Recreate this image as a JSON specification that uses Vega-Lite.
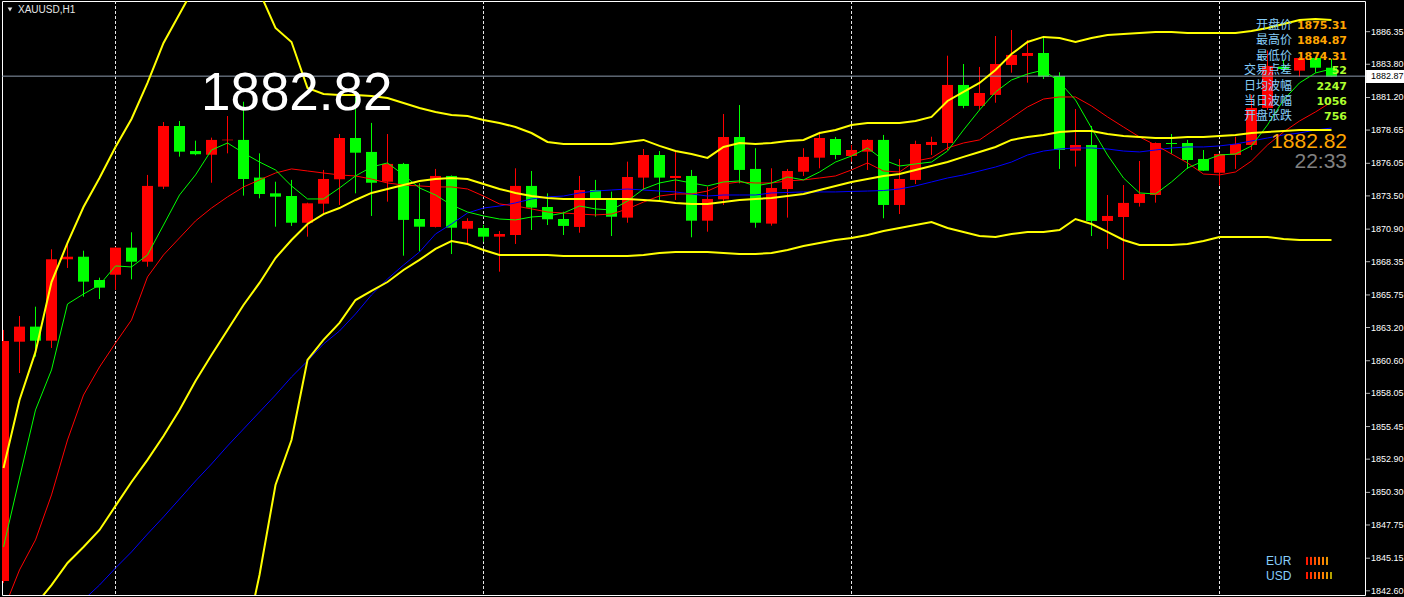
{
"$schema": "https://vega.github.io/schema/vega-lite/v6.json",
"width": 1363, "height": 594,
"autosize": {"type": "none"},
"padding": {"left": 2, "top": 1, "right": 39, "bottom": 2},
"background": "#000000",
"config": {"view": {"stroke": "#ffffff", "strokeWidth": 1},
  "axis": {"labelFont":"Liberation Sans","labelFontSize":9,"labelColor":"#ffffff","tickColor":"#ffffff","domainColor":"#ffffff","grid":false}},
"datasets": {"bars": [
{"i":0,"o":1843.37,"h":1863.01,"l":1843.21,"c":1862.15,"g":1846.03,"r":1841.10,"b":1835.39,"u":1852.21,"m":1838.75,"lo":1825.29},
{"i":1,"o":1862.09,"h":1864.10,"l":1859.64,"c":1863.27,"g":1851.43,"r":1844.23,"b":1836.64,"u":1857.53,"m":1839.92,"lo":1822.32},
{"i":2,"o":1863.27,"h":1864.83,"l":1860.92,"c":1862.17,"g":1856.75,"r":1846.58,"b":1837.97,"u":1861.29,"m":1841.49,"lo":1821.69},
{"i":3,"o":1862.17,"h":1869.32,"l":1861.60,"c":1868.54,"g":1859.88,"r":1850.10,"b":1839.30,"u":1866.76,"m":1843.05,"lo":1819.34},
{"i":4,"o":1868.54,"h":1869.74,"l":1867.86,"c":1868.74,"g":1865.04,"r":1854.40,"b":1840.55,"u":1869.82,"m":1844.78,"lo":1819.74},
{"i":5,"o":1868.74,"h":1869.21,"l":1865.61,"c":1866.79,"g":1865.82,"r":1857.92,"b":1841.88,"u":1872.63,"m":1846.03,"lo":1819.42},
{"i":6,"o":1866.92,"h":1867.10,"l":1865.43,"c":1866.32,"g":1866.53,"r":1860.11,"b":1843.05,"u":1874.90,"m":1847.36,"lo":1819.81},
{"i":7,"o":1867.33,"h":1869.50,"l":1866.14,"c":1869.45,"g":1868.02,"r":1861.99,"b":1844.38,"u":1877.33,"m":1849.24,"lo":1821.14},
{"i":8,"o":1869.45,"h":1870.65,"l":1866.97,"c":1868.35,"g":1867.94,"r":1863.79,"b":1845.64,"u":1879.52,"m":1851.11,"lo":1822.71},
{"i":9,"o":1868.35,"h":1875.14,"l":1867.96,"c":1874.28,"g":1868.88,"r":1867.16,"b":1847.04,"u":1882.34,"m":1852.84,"lo":1823.34},
{"i":10,"o":1874.22,"h":1879.28,"l":1874.04,"c":1878.97,"g":1871.22,"r":1868.88,"b":1848.38,"u":1885.47,"m":1854.71,"lo":1823.96},
{"i":11,"o":1878.97,"h":1879.36,"l":1876.57,"c":1876.96,"g":1873.57,"r":1870.21,"b":1849.78,"u":1887.73,"m":1856.75,"lo":1825.76},
{"i":12,"o":1877.01,"h":1877.82,"l":1876.68,"c":1876.76,"g":1875.14,"r":1871.54,"b":1851.19,"u":1890.00,"m":1859.02,"lo":1828.03},
{"i":13,"o":1876.72,"h":1878.06,"l":1874.53,"c":1877.88,"g":1877.09,"r":1872.55,"b":1852.52,"u":1891.96,"m":1861.05,"lo":1830.14},
{"i":14,"o":1877.85,"h":1879.75,"l":1876.83,"c":1877.90,"g":1877.64,"r":1873.42,"b":1853.93,"u":1892.74,"m":1863.01,"lo":1833.27},
{"i":15,"o":1877.88,"h":1880.87,"l":1873.52,"c":1874.82,"g":1876.86,"r":1874.20,"b":1855.26,"u":1891.96,"m":1864.96,"lo":1837.97},
{"i":16,"o":1874.93,"h":1876.83,"l":1873.31,"c":1873.65,"g":1876.15,"r":1874.75,"b":1856.59,"u":1889.46,"m":1866.69,"lo":1843.84},
{"i":17,"o":1873.70,"h":1874.61,"l":1871.09,"c":1873.44,"g":1875.53,"r":1875.29,"b":1857.92,"u":1886.64,"m":1868.64,"lo":1850.88},
{"i":18,"o":1873.49,"h":1874.75,"l":1871.15,"c":1871.40,"g":1874.28,"r":1875.61,"b":1859.33,"u":1885.54,"m":1870.05,"lo":1854.40},
{"i":19,"o":1871.40,"h":1872.97,"l":1870.31,"c":1872.92,"g":1873.26,"r":1875.45,"b":1860.58,"u":1881.94,"m":1871.30,"lo":1860.66},
{"i":20,"o":1872.89,"h":1875.53,"l":1872.01,"c":1874.82,"g":1873.26,"r":1875.29,"b":1861.91,"u":1881.47,"m":1872.08,"lo":1862.23},
{"i":21,"o":1874.80,"h":1878.34,"l":1872.79,"c":1878.03,"g":1874.12,"r":1875.14,"b":1862.93,"u":1881.40,"m":1872.55,"lo":1863.56},
{"i":22,"o":1878.03,"h":1881.24,"l":1873.70,"c":1876.88,"g":1875.06,"r":1875.06,"b":1864.26,"u":1881.40,"m":1873.18,"lo":1865.35},
{"i":23,"o":1876.94,"h":1879.21,"l":1871.93,"c":1874.53,"g":1875.76,"r":1874.82,"b":1865.75,"u":1881.32,"m":1873.73,"lo":1866.06},
{"i":24,"o":1874.61,"h":1878.34,"l":1873.05,"c":1876.00,"g":1876.08,"r":1874.51,"b":1867.00,"u":1881.16,"m":1874.04,"lo":1866.76},
{"i":25,"o":1876.00,"h":1876.08,"l":1868.82,"c":1871.62,"g":1875.14,"r":1874.35,"b":1868.09,"u":1880.77,"m":1874.35,"lo":1867.70},
{"i":26,"o":1871.69,"h":1874.49,"l":1869.13,"c":1871.09,"g":1874.12,"r":1874.28,"b":1869.11,"u":1880.38,"m":1874.67,"lo":1868.49},
{"i":27,"o":1871.07,"h":1875.61,"l":1871.03,"c":1875.06,"g":1873.57,"r":1874.20,"b":1870.52,"u":1880.07,"m":1874.82,"lo":1869.35},
{"i":28,"o":1875.06,"h":1875.10,"l":1868.95,"c":1871.01,"g":1872.79,"r":1874.20,"b":1871.30,"u":1879.83,"m":1874.90,"lo":1869.97},
{"i":29,"o":1870.93,"h":1871.75,"l":1869.79,"c":1871.54,"g":1872.24,"r":1874.04,"b":1872.16,"u":1879.75,"m":1874.82,"lo":1869.74},
{"i":30,"o":1870.99,"h":1871.22,"l":1869.92,"c":1870.31,"g":1871.93,"r":1873.49,"b":1872.55,"u":1879.44,"m":1874.43,"lo":1869.27},
{"i":31,"o":1870.31,"h":1870.75,"l":1867.57,"c":1870.52,"g":1871.69,"r":1872.87,"b":1872.71,"u":1879.21,"m":1874.04,"lo":1868.88},
{"i":32,"o":1870.44,"h":1875.66,"l":1869.74,"c":1874.28,"g":1871.62,"r":1872.71,"b":1872.95,"u":1878.89,"m":1873.73,"lo":1868.88},
{"i":33,"o":1874.28,"h":1875.45,"l":1870.83,"c":1872.58,"g":1871.85,"r":1872.48,"b":1873.26,"u":1878.42,"m":1873.49,"lo":1868.88},
{"i":34,"o":1872.63,"h":1873.70,"l":1871.22,"c":1871.67,"g":1871.93,"r":1872.24,"b":1873.42,"u":1877.72,"m":1873.34,"lo":1868.88},
{"i":35,"o":1871.69,"h":1872.26,"l":1870.44,"c":1871.15,"g":1872.16,"r":1872.16,"b":1873.49,"u":1877.56,"m":1873.26,"lo":1868.80},
{"i":36,"o":1871.07,"h":1875.06,"l":1870.62,"c":1873.96,"g":1872.71,"r":1872.08,"b":1873.73,"u":1877.56,"m":1873.26,"lo":1868.80},
{"i":37,"o":1873.96,"h":1874.75,"l":1871.87,"c":1873.26,"g":1872.48,"r":1872.01,"b":1873.88,"u":1877.56,"m":1873.26,"lo":1868.80},
{"i":38,"o":1873.18,"h":1873.83,"l":1870.36,"c":1871.87,"g":1872.40,"r":1872.08,"b":1873.96,"u":1877.56,"m":1873.26,"lo":1868.80},
{"i":39,"o":1871.80,"h":1876.18,"l":1871.40,"c":1874.98,"g":1873.10,"r":1872.48,"b":1874.04,"u":1877.72,"m":1873.26,"lo":1868.80},
{"i":40,"o":1874.93,"h":1877.17,"l":1873.96,"c":1876.70,"g":1874.04,"r":1873.02,"b":1873.96,"u":1877.88,"m":1873.18,"lo":1868.88},
{"i":41,"o":1876.70,"h":1877.01,"l":1873.18,"c":1874.93,"g":1874.51,"r":1873.49,"b":1873.88,"u":1877.41,"m":1873.10,"lo":1869.03},
{"i":42,"o":1874.90,"h":1876.96,"l":1873.18,"c":1875.06,"g":1874.75,"r":1873.65,"b":1873.81,"u":1877.01,"m":1872.95,"lo":1869.11},
{"i":43,"o":1875.06,"h":1875.53,"l":1870.26,"c":1871.56,"g":1874.51,"r":1873.65,"b":1873.65,"u":1876.78,"m":1872.87,"lo":1869.11},
{"i":44,"o":1871.56,"h":1874.22,"l":1870.70,"c":1873.26,"g":1874.28,"r":1873.88,"b":1873.49,"u":1876.47,"m":1872.87,"lo":1869.11},
{"i":45,"o":1873.23,"h":1879.91,"l":1872.79,"c":1878.11,"g":1874.59,"r":1874.43,"b":1873.57,"u":1877.33,"m":1873.02,"lo":1869.03},
{"i":46,"o":1878.11,"h":1880.61,"l":1874.49,"c":1875.53,"g":1874.67,"r":1874.59,"b":1873.57,"u":1877.64,"m":1873.18,"lo":1868.95},
{"i":47,"o":1875.61,"h":1877.23,"l":1871.01,"c":1871.40,"g":1874.28,"r":1874.51,"b":1873.57,"u":1877.56,"m":1873.26,"lo":1868.95},
{"i":48,"o":1871.33,"h":1875.66,"l":1871.17,"c":1874.12,"g":1874.51,"r":1874.51,"b":1873.73,"u":1877.64,"m":1873.34,"lo":1869.03},
{"i":49,"o":1874.04,"h":1875.61,"l":1871.80,"c":1875.45,"g":1874.98,"r":1874.67,"b":1873.77,"u":1877.80,"m":1873.49,"lo":1869.27},
{"i":50,"o":1875.39,"h":1877.23,"l":1875.06,"c":1876.55,"g":1874.75,"r":1874.75,"b":1873.81,"u":1877.88,"m":1873.65,"lo":1869.58},
{"i":51,"o":1876.49,"h":1878.52,"l":1875.66,"c":1878.03,"g":1875.37,"r":1874.90,"b":1873.81,"u":1878.42,"m":1873.96,"lo":1869.82},
{"i":52,"o":1877.95,"h":1878.11,"l":1876.37,"c":1876.70,"g":1876.15,"r":1875.06,"b":1873.81,"u":1878.66,"m":1874.28,"lo":1870.05},
{"i":53,"o":1876.62,"h":1877.48,"l":1876.18,"c":1877.09,"g":1876.62,"r":1875.53,"b":1873.85,"u":1879.05,"m":1874.59,"lo":1870.21},
{"i":54,"o":1876.96,"h":1877.95,"l":1875.53,"c":1877.88,"g":1877.25,"r":1876.08,"b":1873.88,"u":1879.21,"m":1874.82,"lo":1870.44},
{"i":55,"o":1877.88,"h":1878.27,"l":1871.75,"c":1872.79,"g":1876.31,"r":1875.45,"b":1873.92,"u":1879.21,"m":1875.06,"lo":1870.75},
{"i":56,"o":1872.79,"h":1876.39,"l":1872.08,"c":1874.82,"g":1875.84,"r":1875.37,"b":1874.04,"u":1879.21,"m":1875.21,"lo":1870.99},
{"i":57,"o":1874.75,"h":1877.82,"l":1874.43,"c":1877.56,"g":1876.00,"r":1876.23,"b":1874.28,"u":1879.36,"m":1875.53,"lo":1871.22},
{"i":58,"o":1877.48,"h":1878.13,"l":1876.70,"c":1877.72,"g":1876.15,"r":1876.47,"b":1874.59,"u":1879.68,"m":1875.84,"lo":1871.46},
{"i":59,"o":1877.64,"h":1884.47,"l":1877.09,"c":1882.18,"g":1877.01,"r":1877.25,"b":1874.90,"u":1880.93,"m":1876.15,"lo":1870.99},
{"i":60,"o":1882.18,"h":1883.82,"l":1880.36,"c":1880.54,"g":1878.66,"r":1877.64,"b":1875.14,"u":1881.63,"m":1876.55,"lo":1870.68},
{"i":61,"o":1880.54,"h":1883.59,"l":1880.22,"c":1881.55,"g":1880.22,"r":1877.88,"b":1875.45,"u":1882.34,"m":1876.94,"lo":1870.36},
{"i":62,"o":1881.40,"h":1886.01,"l":1880.79,"c":1883.82,"g":1881.63,"r":1878.74,"b":1875.76,"u":1883.35,"m":1877.33,"lo":1870.28},
{"i":63,"o":1883.74,"h":1886.48,"l":1883.14,"c":1884.53,"g":1882.57,"r":1879.60,"b":1876.15,"u":1884.60,"m":1877.88,"lo":1870.52},
{"i":64,"o":1884.45,"h":1885.70,"l":1882.36,"c":1884.68,"g":1883.04,"r":1880.46,"b":1876.70,"u":1885.54,"m":1878.11,"lo":1870.68},
{"i":65,"o":1884.68,"h":1885.88,"l":1882.65,"c":1882.83,"g":1883.35,"r":1881.08,"b":1877.01,"u":1885.94,"m":1878.27,"lo":1870.68},
{"i":66,"o":1882.88,"h":1883.17,"l":1875.61,"c":1877.09,"g":1882.41,"r":1881.24,"b":1877.17,"u":1885.86,"m":1878.50,"lo":1870.83},
{"i":67,"o":1877.04,"h":1880.30,"l":1875.79,"c":1877.48,"g":1881.00,"r":1881.24,"b":1877.25,"u":1885.54,"m":1878.58,"lo":1871.69},
{"i":68,"o":1877.48,"h":1878.97,"l":1870.36,"c":1871.54,"g":1878.81,"r":1880.54,"b":1877.25,"u":1885.86,"m":1878.58,"lo":1871.30},
{"i":69,"o":1871.54,"h":1873.57,"l":1869.35,"c":1871.93,"g":1876.70,"r":1879.68,"b":1877.17,"u":1886.09,"m":1878.34,"lo":1870.68},
{"i":70,"o":1871.85,"h":1874.35,"l":1866.92,"c":1872.95,"g":1874.90,"r":1878.89,"b":1877.01,"u":1886.17,"m":1878.19,"lo":1870.05},
{"i":71,"o":1872.95,"h":1876.23,"l":1872.66,"c":1873.65,"g":1873.73,"r":1878.11,"b":1876.94,"u":1886.25,"m":1878.11,"lo":1869.66},
{"i":72,"o":1873.57,"h":1877.68,"l":1872.97,"c":1877.64,"g":1873.65,"r":1877.48,"b":1877.09,"u":1886.33,"m":1878.03,"lo":1869.66},
{"i":73,"o":1877.64,"h":1878.34,"l":1876.78,"c":1877.56,"g":1874.59,"r":1876.78,"b":1877.25,"u":1886.33,"m":1878.03,"lo":1869.66},
{"i":74,"o":1877.64,"h":1877.88,"l":1875.61,"c":1876.31,"g":1875.68,"r":1876.08,"b":1877.33,"u":1886.25,"m":1878.11,"lo":1869.74},
{"i":75,"o":1876.39,"h":1877.09,"l":1875.45,"c":1875.47,"g":1876.23,"r":1875.21,"b":1877.33,"u":1886.25,"m":1878.11,"lo":1869.97},
{"i":76,"o":1875.31,"h":1876.82,"l":1874.31,"c":1876.78,"g":1876.70,"r":1875.14,"b":1877.41,"u":1886.25,"m":1878.19,"lo":1870.28},
{"i":77,"o":1876.70,"h":1878.13,"l":1875.61,"c":1877.56,"g":1876.78,"r":1875.37,"b":1877.56,"u":1886.25,"m":1878.27,"lo":1870.28},
{"i":78,"o":1877.48,"h":1881.40,"l":1877.09,"c":1880.38,"g":1877.41,"r":1876.23,"b":1877.80,"u":1886.40,"m":1878.42,"lo":1870.28},
{"i":79,"o":1880.38,"h":1884.87,"l":1880.22,"c":1883.67,"g":1879.05,"r":1877.48,"b":1878.03,"u":1886.64,"m":1878.50,"lo":1870.28},
{"i":80,"o":1883.61,"h":1884.14,"l":1883.20,"c":1883.43,"g":1881.00,"r":1878.50,"b":1878.27,"u":1886.95,"m":1878.58,"lo":1870.13},
{"i":81,"o":1883.30,"h":1884.37,"l":1882.83,"c":1884.29,"g":1882.34,"r":1879.36,"b":1878.42,"u":1887.27,"m":1878.66,"lo":1870.05},
{"i":82,"o":1884.29,"h":1884.37,"l":1883.14,"c":1883.53,"g":1883.12,"r":1880.07,"b":1878.66,"u":1887.34,"m":1878.66,"lo":1870.05},
{"i":83,"o":1883.53,"h":1884.21,"l":1882.80,"c":1882.82,"g":1883.43,"r":1880.85,"b":1878.81,"u":1887.27,"m":1878.66,"lo":1870.05}
],
"ticks": [{"p":1842.6},{"p":1845.15},{"p":1847.75},{"p":1850.3},{"p":1852.9},{"p":1855.45},{"p":1858.05},{"p":1860.6},{"p":1863.2},{"p":1865.75},{"p":1868.35},{"p":1870.9},{"p":1873.5},{"p":1876.05},{"p":1878.65},{"p":1881.2},{"p":1883.8},{"p":1886.35}]
},
"layer": [
{"data": {"values": [{"i":7},{"i":30},{"i":53},{"i":76}]},
 "mark": {"type":"rule","color":"#e6e6e6","strokeWidth":1,"strokeDash":[3,2]},
 "encoding": {"x": {"field":"i","type":"quantitative","scale":{"domain":[-0.09375,85.09375],"nice":false,"zero":false,"padding":0},"axis":null}}},
{"data": {"name":"bars"},
 "mark": {"type":"rule","strokeWidth":1,"clip":true},
 "encoding": {
  "x": {"field":"i","type":"quantitative","axis":null},
  "y": {"field":"l","type":"quantitative","scale":{"domain":[1842.27,1888.75],"nice":false,"zero":false,"padding":0},"axis":null},
  "y2": {"field":"h"},
  "color": {"condition":{"test":"datum.c >= datum.o","value":"#ff0000"},"value":"#00ff00"}}},
{"data": {"name":"bars"},
 "mark": {"type":"bar","width":11,"clip":true},
 "encoding": {
  "x": {"field":"i","type":"quantitative","axis":null},
  "y": {"field":"o","type":"quantitative","axis":null},
  "y2": {"field":"c"},
  "color": {"condition":{"test":"datum.c >= datum.o","value":"#ff0000"},"value":"#00ff00"}}},
{"data": {"values":[{"p":1882.87}]},
 "mark": {"type":"rule","color":"#8c9bad","strokeWidth":1},
 "encoding": {"y": {"field":"p","type":"quantitative","axis":null}}},
{"data": {"name":"bars"},
 "mark": {"type":"line","color":"#0000ff","strokeWidth":1,"clip":true},
 "encoding": {"x": {"field":"i","type":"quantitative","axis":null},
  "y": {"field":"b","type":"quantitative","axis":null}}},
{"data": {"name":"bars"},
 "mark": {"type":"line","color":"#ff0000","strokeWidth":1,"clip":true},
 "encoding": {"x": {"field":"i","type":"quantitative","axis":null},
  "y": {"field":"r","type":"quantitative","axis":null}}},
{"data": {"name":"bars"},
 "mark": {"type":"line","color":"#00ff00","strokeWidth":1,"clip":true},
 "encoding": {"x": {"field":"i","type":"quantitative","axis":null},
  "y": {"field":"g","type":"quantitative","axis":null}}},
{"data": {"name":"bars"},
 "mark": {"type":"line","color":"#ffff00","strokeWidth":2,"clip":true},
 "encoding": {"x": {"field":"i","type":"quantitative","axis":null},
  "y": {"field":"u","type":"quantitative","axis":null}}},
{"data": {"name":"bars"},
 "mark": {"type":"line","color":"#ffff00","strokeWidth":2,"clip":true},
 "encoding": {"x": {"field":"i","type":"quantitative","axis":null},
  "y": {"field":"m","type":"quantitative","axis":null}}},
{"data": {"name":"bars"},
 "mark": {"type":"line","color":"#ffff00","strokeWidth":2,"clip":true},
 "encoding": {"x": {"field":"i","type":"quantitative","axis":null},
  "y": {"field":"lo","type":"quantitative","axis":null}}},
{"data": {"name":"ticks"},
 "layer": [
  {"mark": {"type":"tick","orient":"horizontal","color":"#ffffff","thickness":1,"size":4,"clip":false,"xOffset":2},
   "encoding": {"y": {"field":"p","type":"quantitative","axis":null},
     "x": {"datum":85.16,"type":"quantitative","axis":null}}},
  {"mark": {"type":"text","font":"Liberation Sans","fontSize":9,"color":"#ffffff","align":"left","baseline":"middle","clip":false,"dx":5},
   "encoding": {"y": {"field":"p","type":"quantitative","axis":null},
     "x": {"datum":85.16,"type":"quantitative","axis":null},
     "text": {"field":"p","type":"quantitative","format":".2f"}}}
 ]},
{"data": {"values":[{"x":85.16,"x2":87.6,"y":1883.35,"y2":1882.33,"p":1882.87}]},
 "layer": [
  {"mark": {"type":"rect","color":"#ffffff","clip":false},
   "encoding": {"x": {"field":"x","type":"quantitative","axis":null},"x2": {"field":"x2"},
    "y": {"field":"y","type":"quantitative","axis":null},"y2": {"field":"y2"}}},
  {"mark": {"type":"text","font":"Liberation Sans","fontSize":9,"color":"#000000","align":"left","baseline":"middle","dx":5,"clip":false},
   "encoding": {"x": {"field":"x","type":"quantitative","axis":null},
    "y": {"field":"p","type":"quantitative","axis":null},"text": {"field":"p","type":"quantitative","format":".2f"}}}
 ]},
{"data": {"values":[{"x":12.34,"y":1880.22,"t":"1882.82"}]},
 "mark": {"type":"text","font":"Liberation Sans","fontSize":53,"color":"#ffffff","align":"left","baseline":"alphabetic"},
 "encoding": {"x": {"field":"x","type":"quantitative","axis":null},"y": {"field":"y","type":"quantitative","axis":null},"text": {"field":"t"}}},
{"data": {"values":[
  {"x":80.53,"y":1886.52,"t":"开盘价"},{"x":80.53,"y":1885.35,"t":"最高价"},{"x":80.53,"y":1884.17,"t":"最低价"},
  {"x":80.53,"y":1883.00,"t":"交易点差"},{"x":80.53,"y":1881.82,"t":"日均波幅"},{"x":80.53,"y":1880.65,"t":"当日波幅"},{"x":80.53,"y":1879.47,"t":"开盘张跌"}]},
 "mark": {"type":"text","font":"Noto Sans CJK SC","fontSize":12,"color":"#87cefa","align":"right","baseline":"alphabetic"},
 "encoding": {"x": {"field":"x","type":"quantitative","axis":null},"y": {"field":"y","type":"quantitative","axis":null},"text": {"field":"t"}}},
{"data": {"values":[
  {"x":83.97,"y":1886.52,"t":"1875.31"},{"x":83.97,"y":1885.35,"t":"1884.87"},{"x":83.97,"y":1884.17,"t":"1874.31"}]},
 "mark": {"type":"text","font":"DejaVu Sans","fontWeight":"bold","fontSize":11,"color":"#ffa500","align":"right","baseline":"alphabetic"},
 "encoding": {"x": {"field":"x","type":"quantitative","axis":null},"y": {"field":"y","type":"quantitative","axis":null},"text": {"field":"t"}}},
{"data": {"values":[
  {"x":83.97,"y":1883.00,"t":"52"},{"x":83.97,"y":1881.82,"t":"2247"},{"x":83.97,"y":1880.65,"t":"1056"},{"x":83.97,"y":1879.47,"t":"756"}]},
 "mark": {"type":"text","font":"DejaVu Sans","fontWeight":"bold","fontSize":11,"color":"#adff2f","align":"right","baseline":"alphabetic"},
 "encoding": {"x": {"field":"x","type":"quantitative","axis":null},"y": {"field":"y","type":"quantitative","axis":null},"text": {"field":"t"}}},
{"data": {"values":[{"x":83.97,"y":1877.25,"t":"1882.82"}]},
 "mark": {"type":"text","font":"Liberation Sans","fontSize":21,"color":"#ffa500","align":"right","baseline":"alphabetic"},
 "encoding": {"x": {"field":"x","type":"quantitative","axis":null},"y": {"field":"y","type":"quantitative","axis":null},"text": {"field":"t"}}},
{"data": {"values":[{"x":83.97,"y":1875.68,"t":"22:33"}]},
 "mark": {"type":"text","font":"Liberation Sans","fontSize":21,"color":"#808080","align":"right","baseline":"alphabetic"},
 "encoding": {"x": {"field":"x","type":"quantitative","axis":null},"y": {"field":"y","type":"quantitative","axis":null},"text": {"field":"t"}}},
{"data": {"values":[{"x":0.906,"y":1887.81,"t":"XAUUSD,H1"}]},
 "mark": {"type":"text","font":"Liberation Sans","fontSize":10,"color":"#e6e6e6","align":"left","baseline":"alphabetic"},
 "encoding": {"x": {"field":"x","type":"quantitative","axis":null},"y": {"field":"y","type":"quantitative","axis":null},"text": {"field":"t"}}},
{"data": {"values":[{"x":0.406,"y":1888.09}]},
 "mark": {"type":"point","shape":"triangle-down","filled":true,"size":22,"color":"#e6e6e6","opacity":1},
 "encoding": {"x": {"field":"x","type":"quantitative","axis":null},"y": {"field":"y","type":"quantitative","axis":null}}},
{"data": {"values":[{"x":78.91,"y":1844.62,"t":"EUR"},{"x":78.91,"y":1843.45,"t":"USD"}]},
 "mark": {"type":"text","font":"Liberation Sans","fontSize":12,"color":"#87cefa","align":"left","baseline":"alphabetic"},
 "encoding": {"x": {"field":"x","type":"quantitative","axis":null},"y": {"field":"y","type":"quantitative","axis":null},"text": {"field":"t"}}},
{"data": {"values":[
  {"x":81.47,"lv":1,"y":1845.25,"y2":1844.62},{"x":81.72,"lv":2,"y":1845.25,"y2":1844.62},{"x":81.97,"lv":3,"y":1845.25,"y2":1844.62},
  {"x":82.22,"lv":4,"y":1845.25,"y2":1844.62},{"x":82.47,"lv":5,"y":1845.25,"y2":1844.62},{"x":82.72,"lv":6,"y":1845.25,"y2":1844.62},
  {"x":81.47,"lv":1,"y":1844.07,"y2":1843.52},{"x":81.72,"lv":2,"y":1844.07,"y2":1843.52},{"x":81.97,"lv":3,"y":1844.07,"y2":1843.52},
  {"x":82.22,"lv":4,"y":1844.07,"y2":1843.52},{"x":82.47,"lv":5,"y":1844.07,"y2":1843.52},{"x":82.72,"lv":6,"y":1844.07,"y2":1843.52},
  {"x":82.97,"lv":7,"y":1844.07,"y2":1843.52}]},
 "mark": {"type":"rule","strokeWidth":2},
 "encoding": {"x": {"field":"x","type":"quantitative","axis":null},
  "y": {"field":"y","type":"quantitative","axis":null},"y2": {"field":"y2"},
  "color": {"field":"lv","type":"ordinal","scale":{"domain":[1,2,3,4,5,6,7],"range":["#ff1a00","#ff3300","#ff5500","#ff6a00","#ff8000","#e69500","#b3a000"]},"legend":null}}}
]
}
